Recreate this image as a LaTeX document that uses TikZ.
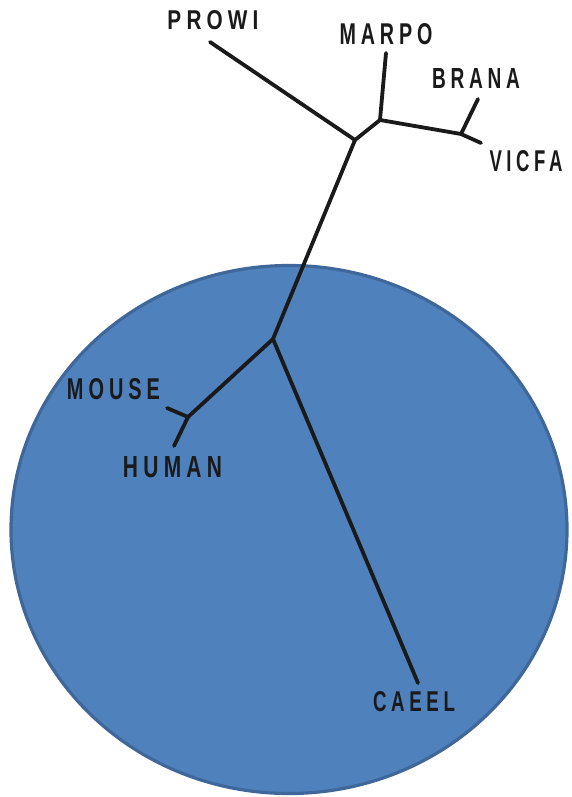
\documentclass[tikz,border=0pt]{standalone}
\usepackage{fontspec}
\newfontfamily\labfont[LetterSpace=25]{Liberation Sans Bold}
\definecolor{fillblue}{HTML}{4F81BD}
\definecolor{edgeblue}{HTML}{3F679A}
\definecolor{ink}{HTML}{1A1A1A}
\newcommand{\taxon}[3]{\resizebox{#1pt}{#2pt}{\labfont #3}}
\begin{document}
\begin{tikzpicture}[x=1pt,y=-1pt,
  branch/.style={line width=3.8pt, ink, line cap=round, line join=round},
  taxlabel/.style={inner sep=0pt, text=ink, anchor=center}]
\useasboundingbox (0,0) rectangle (571,797);
\fill[white] (0,0) rectangle (571,797);
% group ellipse
\draw[fill=fillblue, draw=edgeblue, line width=3.2pt] (289,529.5) ellipse [x radius=278, y radius=264];
% internal junctions and tips
\coordinate (A) at (355,140);
\coordinate (B) at (380,120);
\coordinate (C) at (461,134);
\coordinate (D) at (273,339);
\coordinate (E) at (188,417);
\coordinate (tPROWI) at (210,42);
\coordinate (tMARPO) at (386,53);
\coordinate (tBRANA) at (478,99);
\coordinate (tVICFA) at (481,143);
\coordinate (tMOUSE) at (167,408);
\coordinate (tHUMAN) at (174,446);
\coordinate (tCAEEL) at (418,683);
% branches
\draw[branch] (tPROWI) -- (A);
\draw[branch] (A) -- (B);
\draw[branch] (B) -- (tMARPO);
\draw[branch] (B) -- (C);
\draw[branch] (C) -- (tBRANA);
\draw[branch] (C) -- (tVICFA);
\draw[branch] (A) -- (D);
\draw[branch] (D) -- (E);
\draw[branch] (E) -- (tMOUSE);
\draw[branch] (E) -- (tHUMAN);
\draw[branch] (D) -- (tCAEEL);
% labels
\node[taxlabel] (lPROWI) at (213,20) {\taxon{91}{19}{PROWI}};
\node[taxlabel] (lMARPO) at (386,34) {\taxon{93}{21}{MARPO}};
\node[taxlabel] (lBRANA) at (476,78) {\taxon{88}{20}{BRANA}};
\node[taxlabel] (lVICFA) at (526,161) {\taxon{73}{21}{VICFA}};
\node[taxlabel] (lMOUSE) at (113.5,389) {\taxon{93}{21}{MOUSE}};
\node[taxlabel] (lHUMAN) at (172.5,467.5) {\taxon{99}{21}{HUMAN}};
\node[taxlabel] (lCAEEL) at (414,702) {\taxon{82}{20}{CAEEL}};
\end{tikzpicture}
\end{document}
